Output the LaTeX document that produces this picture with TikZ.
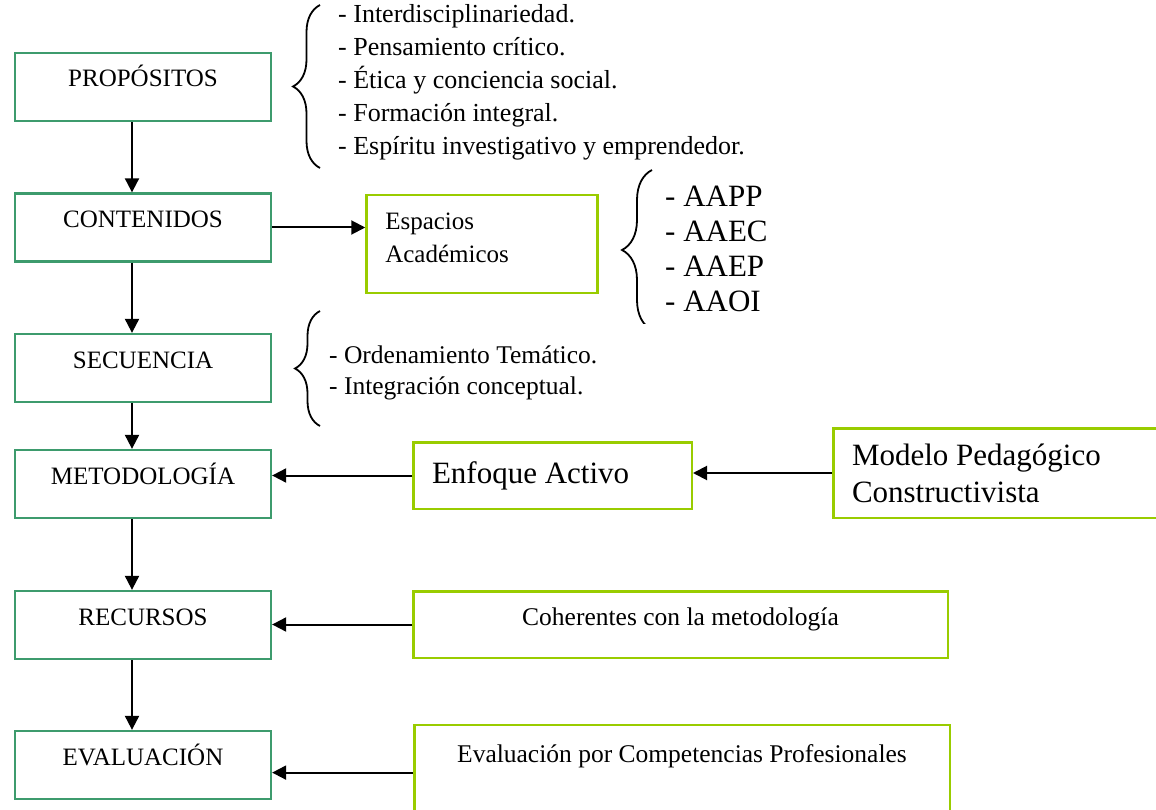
\documentclass[tikz,border=0pt]{standalone}
\usepackage{fontspec}
\setmainfont{Liberation Serif}
\usetikzlibrary{arrows.meta,decorations.pathreplacing}
\definecolor{verdeoscuro}{HTML}{3D9B6D}
\definecolor{verdelima}{HTML}{99CC00}

\begin{document}
\begin{tikzpicture}[
    x=1pt, y=-1pt,
    etapa/.style={rectangle, draw=verdeoscuro, line width=2.3pt, minimum width=256pt, text height=34pt, text depth=34pt, inner ysep=0pt, font=\fontsize{25}{30}\selectfont},
    apoyo/.style={rectangle, draw=verdelima, line width=2.5pt, inner xsep=18.75pt, inner ysep=0pt},
    lista/.style={text width=430pt, align=flush left, anchor=base west, inner sep=0pt},
    llave/.style={decorate, decoration={brace, amplitude=#1}, line width=1.8pt},
    flecha/.style={->, line width=2pt},
    >={Triangle[length=14pt,width=14pt]}
]
\useasboundingbox (0,0) rectangle (1156,810);

% etapas del diseño curricular
\node[etapa] (prop) at (143,87) {PROPÓSITOS};
\node[etapa] (cont) at (143,227.5) {CONTENIDOS};
\node[etapa] (secu) at (143,368) {SECUENCIA};
\node[etapa] (meto) at (143,484) {METODOLOGÍA};
\node[etapa] (recu) at (143,625) {RECURSOS};
\node[etapa] (eval) at (143,765) {EVALUACIÓN};

% cajas de apoyo
\node[apoyo, text width=193.5pt, minimum height=97.5pt, text depth=45pt, align=flush left, font=\fontsize{25}{33}\selectfont] (esp) at (482,244) {Espacios\\Académicos};
\node[apoyo, text width=241pt, minimum height=66.5pt, align=flush left, font=\fontsize{31}{37}\selectfont] (enf) at (552.5,475.5) {Enfoque Activo};
\node[apoyo, text width=298pt, minimum height=89.5pt, align=flush left, font=\fontsize{31}{37}\selectfont] (mod) at (1001,473) {Modelo Pedagógico\\Constructivista};
\node[apoyo, minimum width=534.5pt, minimum height=66.5pt, text depth=16pt, font=\fontsize{25.5}{30}\selectfont] (coh) at (680.5,624.5) {Coherentes con la metodología};
\node[apoyo, minimum width=535.5pt, minimum height=94.75pt, text depth=39pt, font=\fontsize{25.5}{30}\selectfont] (evc) at (682,772.6) {Evaluación por Competencias Profesionales};

% listas
\node[lista, font=\fontsize{26}{33}\selectfont] (lprop) at (338,22.6) {- Interdisciplinariedad.\\- Pensamiento crítico.\\- Ética y conciencia social.\\- Formación integral.\\- Espíritu investigativo y emprendedor.};
\node[lista, font=\fontsize{31}{35}\selectfont] (lesp) at (665,207) {- AAPP\\- AAEC\\- AAEP\\- AAOI};
\node[lista, font=\fontsize{25.5}{31}\selectfont] (lsecu) at (329,363.5) {- Ordenamiento Temático.\\- Integración conceptual.};

% llaves
\draw[llave=27pt] (320,168) -- (320,5);
\begin{scope}
\clip (600,160) rectangle (700,323);
\draw[llave=30pt] (652,330) -- (652,170);
\end{scope}
\draw[llave=25pt] (320,426) -- (320,311);

% flechas
\draw[flecha] ([xshift=-11pt]prop.south) -- ([xshift=-11pt]cont.north);
\draw[flecha] ([xshift=-11pt]cont.south) -- ([xshift=-11pt]secu.north);
\draw[flecha] ([xshift=-11pt]secu.south) -- ([xshift=-11pt]meto.north);
\draw[flecha] ([xshift=-11pt]meto.south) -- ([xshift=-11pt]recu.north);
\draw[flecha] ([xshift=-11pt]recu.south) -- ([xshift=-11pt]eval.north);
\draw[flecha] (cont.east) -- (cont.east -| esp.west);
\draw[flecha] (mod.west) -- (mod.west -| enf.east);
\draw[flecha] (enf.west) -- (enf.west -| meto.east);
\draw[flecha] (coh.west) -- (coh.west -| recu.east);
\draw[flecha] (evc.west) -- (evc.west -| eval.east);

\end{tikzpicture}
\end{document}
